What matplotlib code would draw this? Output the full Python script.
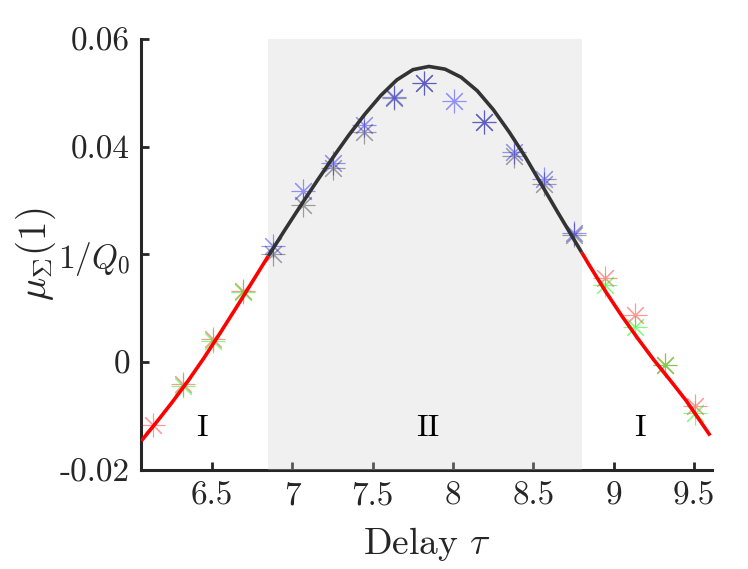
import matplotlib
matplotlib.use("Agg")
import matplotlib.pyplot as plt
import numpy as np

plt.rcParams['mathtext.fontset'] = 'cm'
plt.rcParams['font.family'] = ['cmr10', 'DejaVu Serif']
plt.rcParams['axes.unicode_minus'] = False

# fitted curve
curve_x = [6.06, 6.15, 6.25, 6.35, 6.45, 6.55, 6.65, 6.75, 6.85, 6.95, 7.05, 7.15, 7.25,
           7.35, 7.45, 7.55, 7.65, 7.75, 7.85, 7.95, 8.05, 8.15, 8.25, 8.35, 8.45, 8.55,
           8.65, 8.75, 8.80, 8.85, 8.95, 9.05, 9.15, 9.25, 9.35, 9.45, 9.60]
curve_y = [-0.0146, -0.0113, -0.0075, -0.0035, 0.0008, 0.0054, 0.0101, 0.0149, 0.0197,
           0.0244, 0.0290, 0.0335, 0.0379, 0.0421, 0.0460, 0.0495, 0.0524, 0.0543, 0.0549,
           0.0544, 0.0529, 0.0504, 0.0469, 0.0427, 0.0381, 0.0330, 0.0279, 0.0229, 0.0204,
           0.0179, 0.0131, 0.0086, 0.0044, 0.0004, -0.0033, -0.0071, -0.0136]

region_lo = 6.85
region_hi = 8.80

red_x = [6.135, 6.32, 6.508, 6.695, 8.943, 9.13, 9.318, 9.505]
red_y = [-0.0116, -0.0040, 0.0043, 0.0132, 0.0156, 0.0088, -0.0005, -0.0081]
green_x = [6.32, 6.508, 6.695, 8.943, 9.13, 9.318, 9.505]
green_y = [-0.0045, 0.0040, 0.0130, 0.0144, 0.0066, -0.0005, -0.0094]
blue_x = [6.88, 7.068, 7.255, 7.443, 7.63, 7.818, 8.005, 8.193, 8.38, 8.568, 8.755]
blue_y = [0.0215, 0.0318, 0.0370, 0.0441, 0.0492, 0.0518, 0.0485, 0.0446, 0.0391, 0.0340, 0.0240]
gray_x = [6.88, 7.068, 7.255, 7.443, 7.63, 7.818, 8.193, 8.38, 8.568, 8.755]
gray_y = [0.0201, 0.0292, 0.0361, 0.0428, 0.0490, 0.0518, 0.0445, 0.0382, 0.0331, 0.0237]

xticks = [6.5, 7, 7.5, 8, 8.5, 9, 9.5]
xticklabels = ['6.5', '7', '7.5', '8', '8.5', '9', '9.5']
yticks = [-0.02, 0, 0.02, 0.04, 0.06]
yticklabels = ['-0.02', '0', r'$1/Q_0$', '0.04', '0.06']

fig = plt.figure(figsize=(7.48, 5.69), dpi=100)
ax = fig.add_axes([0.1885, 0.174, 0.952 - 0.1885, 0.9315 - 0.174])

dark = '#262626'
cx = np.array(curve_x)
cy = np.array(curve_y)
inside = (cx >= region_lo - 1e-9) & (cx <= region_hi + 1e-9)
left = cx <= region_lo + 1e-9
right = cx >= region_hi - 1e-9
ax.plot(cx[left], cy[left], color='red', lw=2.6, zorder=4, solid_capstyle='butt')
ax.plot(cx[right], cy[right], color='red', lw=2.6, zorder=4, solid_capstyle='butt')
ax.plot(cx[inside], cy[inside], color='#333333', lw=2.6, zorder=4, solid_capstyle='butt')

mk = (8, 2, 0)
ms = 17
mw = 0.8
ax.plot(red_x, red_y, ls='none', marker=mk, ms=ms, mec='red', mew=mw, alpha=0.4, zorder=3)
ax.plot(green_x, green_y, ls='none', marker=mk, ms=ms, mec='#00ff00', mew=mw, alpha=0.5, zorder=3)
ax.plot(gray_x, gray_y, ls='none', marker=mk, ms=ms, mec='black', mew=mw, alpha=0.35, zorder=3)
ax.plot(blue_x, blue_y, ls='none', marker=mk, ms=ms, mec='blue', mew=mw, alpha=0.4, zorder=3)

ax.axvspan(region_lo, region_hi, color=(0.806, 0.806, 0.806), alpha=0.3, lw=0, zorder=2.6)

ax.text(6.44, -0.0122, 'I', ha='center', va='center', fontsize=23, color='black')
ax.text(7.84, -0.0122, 'II', ha='center', va='center', fontsize=23, color='black')
ax.text(9.16, -0.0122, 'I', ha='center', va='center', fontsize=23, color='black')

ax.set_xlim(6.058, 9.612)
ax.set_ylim(-0.02, 0.06)
ax.set_xticks(xticks)
ax.set_xticklabels(xticklabels)
ax.set_yticks(yticks)
ax.set_yticklabels(yticklabels)

for s in ['top', 'right']:
    ax.spines[s].set_visible(False)
for s in ['left', 'bottom']:
    ax.spines[s].set_color(dark)
    ax.spines[s].set_linewidth(2.2)
ax.tick_params(direction='in', length=6, width=2, colors=dark, labelsize=24, pad=8)
ax.tick_params(axis='y', pad=8)

ax.set_xlabel(r'Delay $\tau$', fontsize=27, color=dark, labelpad=11)
ax.set_ylabel(r'$\mu_\Sigma(1)$', fontsize=28, color=dark, labelpad=0)

fig.savefig('out.png', dpi=100)
